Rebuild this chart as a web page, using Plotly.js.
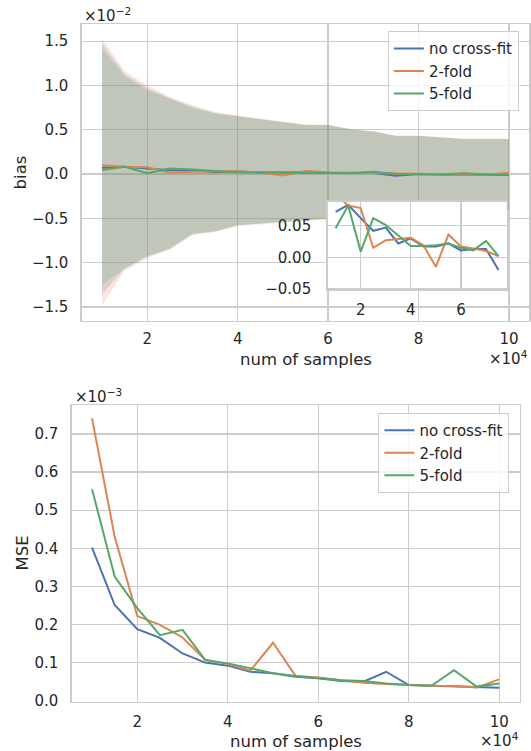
<!DOCTYPE html>
<html>
<head>
<meta charset="utf-8">
<script src="https://cdn.plot.ly/plotly-3.0.1.min.js"></script>
<style>html,body{margin:0;padding:0;background:#fff;}#chart{width:531px;height:751px;}</style>
</head>
<body>
<div id="chart"></div>
<script>
// number of samples (x 10^4)
const nSamples = [1,1.5,2,2.5,3,3.5,4,4.5,5,5.5,6,6.5,7,7.5,8,8.5,9,9.5,10];
const seriesNames = ['no cross-fit','2-fold','5-fold'];
const seriesColors = ['#4c72b0','#dd8452','#55a868'];

// bias means (x 10^-2)
const biasNoCF  = [0.072,0.083,0.062,0.042,0.047,0.022,0.030,0.017,0.017,0.022,0.011,0.013,0.013,-0.020,0.000,-0.005,-0.003,-0.008,-0.010];
const bias2Fold = [0.100,0.082,0.078,0.015,0.027,0.029,0.031,0.019,-0.015,0.036,0.017,0.014,0.010,0.002,0.003,-0.005,-0.010,-0.008,0.015];
const bias5Fold = [0.046,0.082,0.009,0.062,0.051,0.035,0.018,0.018,0.019,0.022,0.015,0.011,0.026,0.002,0.002,-0.004,0.010,-0.005,-0.008];

// bias band limits (x 10^-2)
const upNoCF  = [1.48,1.13,0.97,0.86,0.76,0.69,0.655,0.62,0.585,0.555,0.555,0.506,0.48,0.43,0.43,0.416,0.397,0.397,0.397];
const lowNoCF = [-1.35,-1.07,-0.93,-0.845,-0.675,-0.648,-0.58,-0.56,-0.545,-0.525,-0.505,-0.485,-0.465,-0.435,-0.425,-0.415,-0.405,-0.405,-0.405];
const up2Fold  = [1.53,1.16,1.00,0.87,0.78,0.70,0.66,0.625,0.59,0.56,0.56,0.51,0.485,0.435,0.435,0.42,0.40,0.40,0.40];
const low2Fold = [-1.48,-1.09,-0.95,-0.85,-0.69,-0.655,-0.585,-0.565,-0.55,-0.53,-0.51,-0.49,-0.47,-0.44,-0.43,-0.42,-0.41,-0.41,-0.41];
const up5Fold  = [1.42,1.10,0.95,0.85,0.75,0.685,0.65,0.617,0.583,0.553,0.553,0.504,0.478,0.429,0.429,0.414,0.395,0.395,0.395];
const low5Fold = [-1.25,-1.065,-0.925,-0.84,-0.67,-0.643,-0.576,-0.557,-0.54,-0.52,-0.50,-0.48,-0.46,-0.43,-0.42,-0.41,-0.40,-0.40,-0.40];

// inset shows first points (x = 1 .. 7.5)
const insetCount = 14;

// MSE (x 10^-3)
const mseNoCF  = [0.402,0.251,0.188,0.165,0.124,0.100,0.092,0.076,0.072,0.063,0.059,0.052,0.050,0.076,0.041,0.039,0.0385,0.035,0.034];
const mse2Fold = [0.741,0.430,0.222,0.199,0.166,0.107,0.096,0.079,0.152,0.065,0.061,0.054,0.047,0.044,0.041,0.039,0.0385,0.035,0.056];
const mse5Fold = [0.555,0.326,0.243,0.172,0.186,0.107,0.098,0.085,0.072,0.065,0.060,0.054,0.052,0.045,0.041,0.039,0.080,0.037,0.045];

const biasMeans = [biasNoCF,bias2Fold,bias5Fold];
const bandUp = [upNoCF,up2Fold,up5Fold];
const bandLow = [lowNoCF,low2Fold,low5Fold];
const mseVals = [mseNoCF,mse2Fold,mse5Fold];
const bandFill = ['rgba(76,114,176,0.2)','rgba(221,132,82,0.2)','rgba(85,168,104,0.2)'];

const traces = [];
for (let i=0;i<3;i++){
  traces.push({
    x: nSamples.concat(nSamples.slice().reverse()),
    y: bandUp[i].concat(bandLow[i].slice().reverse()),
    xaxis:'x', yaxis:'y', type:'scatter', mode:'lines', fill:'toself',
    fillcolor: bandFill[i], line:{width:0, color:'rgba(0,0,0,0)'},
    showlegend:false, hoverinfo:'skip'
  });
}
for (let i=0;i<3;i++){
  traces.push({x:nSamples, y:biasMeans[i], xaxis:'x', yaxis:'y', type:'scatter', mode:'lines',
    name:seriesNames[i], line:{color:seriesColors[i], width:2}, legend:'legend'});
}
for (let i=0;i<3;i++){
  traces.push({x:nSamples.slice(0,insetCount), y:biasMeans[i].slice(0,insetCount), xaxis:'x3', yaxis:'y3',
    type:'scatter', mode:'lines', name:seriesNames[i], line:{color:seriesColors[i], width:2}, showlegend:false});
}
for (let i=0;i<3;i++){
  traces.push({x:nSamples, y:mseVals[i], xaxis:'x2', yaxis:'y2', type:'scatter', mode:'lines',
    name:seriesNames[i], line:{color:seriesColors[i], width:2}, legend:'legend2'});
}

const W=531, H=751;
const px = v => v/W;
const py = v => 1 - v/H;
const txt = '#262626';
const baseAx = {
  showgrid:true, gridcolor:'#cccccc', gridwidth:1.3, zeroline:false,
  showline:true, mirror:true, linecolor:'#cccccc', linewidth:1.3,
  ticks:'outside', ticklen:4, tickcolor:'rgba(0,0,0,0)',
  tickfont:{size:15, color:txt}
};
const tickX = {tickmode:'array', tickvals:[2,4,6,8,10], ticktext:['2','4','6','8','10']};

const layout = {
  width:W, height:H, margin:{l:0,r:0,t:0,b:0},
  paper_bgcolor:'#ffffff', plot_bgcolor:'#ffffff',
  font:{family:'DejaVu Sans', color:txt, size:15},
  xaxis: Object.assign({}, baseAx, tickX, {domain:[px(81.7),px(529.3)], range:[0.55,10.45], anchor:'y', ticklen:4}),
  yaxis: Object.assign({}, baseAx, {domain:[py(320.7),py(24)], range:[-1.655,1.694], anchor:'x', tickmode:'array',
    tickvals:[-1.5,-1,-0.5,0,0.5,1,1.5], tickformat:'.1f', ticklen:9}),
  xaxis2: Object.assign({}, baseAx, tickX, {domain:[px(71.7),px(519.6)], range:[0.55,10.45], anchor:'y2', ticklen:6}),
  yaxis2: Object.assign({}, baseAx, {domain:[py(701.7),py(405)], range:[-0.0026,0.776], anchor:'x2', tickmode:'array',
    tickvals:[0,0.1,0.2,0.3,0.4,0.5,0.6,0.7], tickformat:'.1f', ticklen:9}),
  xaxis3: Object.assign({}, baseAx, {domain:[px(327.5),px(506.7)], range:[0.675,7.825], anchor:'y3',
    tickmode:'array', tickvals:[2,4,6], ticktext:['2','4','6'], ticklen:6}),
  yaxis3: Object.assign({}, baseAx, {domain:[py(290),py(201.7)], range:[-0.0517,0.088], anchor:'x3',
    tickmode:'array', tickvals:[-0.05,0,0.05], tickformat:'.2f', ticklen:12}),
  legend: {x:px(387.9), y:py(31.2), xanchor:'left', yanchor:'top', bgcolor:'rgba(255,255,255,0.8)',
    bordercolor:'#cccccc', borderwidth:1, font:{size:15, color:txt}},
  legend2: {x:px(378.4), y:py(413.1), xanchor:'left', yanchor:'top', bgcolor:'rgba(255,255,255,0.8)',
    bordercolor:'#cccccc', borderwidth:1, font:{size:15, color:txt}},
  annotations: [
    {text:'bias', xref:'paper', yref:'paper', x:px(20), y:py(172.4), textangle:-90, showarrow:false, font:{size:16.5}, xanchor:'center', yanchor:'middle'},
    {text:'MSE', xref:'paper', yref:'paper', x:px(22), y:py(553.4), textangle:-90, showarrow:false, font:{size:16.5}, xanchor:'center', yanchor:'middle'},
    {text:'num of samples', xref:'paper', yref:'paper', x:px(305.5), y:py(359), showarrow:false, font:{size:16.5}, xanchor:'center', yanchor:'middle'},
    {text:'num of samples', xref:'paper', yref:'paper', x:px(295.6), y:py(741), showarrow:false, font:{size:16.5}, xanchor:'center', yanchor:'middle'},
    {text:'×10<sup>−2</sup>', xref:'paper', yref:'paper', x:px(82), y:py(15), showarrow:false, font:{size:15}, xanchor:'left', yanchor:'middle'},
    {text:'×10<sup>−3</sup>', xref:'paper', yref:'paper', x:px(73), y:py(396), showarrow:false, font:{size:15}, xanchor:'left', yanchor:'middle'},
    {text:'×10<sup>4</sup>', xref:'paper', yref:'paper', x:px(529.5), y:py(358), showarrow:false, font:{size:15}, xanchor:'right', yanchor:'middle'},
    {text:'×10<sup>4</sup>', xref:'paper', yref:'paper', x:px(521), y:py(740), showarrow:false, font:{size:15}, xanchor:'right', yanchor:'middle'}
  ]
};

Plotly.newPlot('chart', traces, layout, {staticPlot:true, displayModeBar:false});
</script>
</body>
</html>
